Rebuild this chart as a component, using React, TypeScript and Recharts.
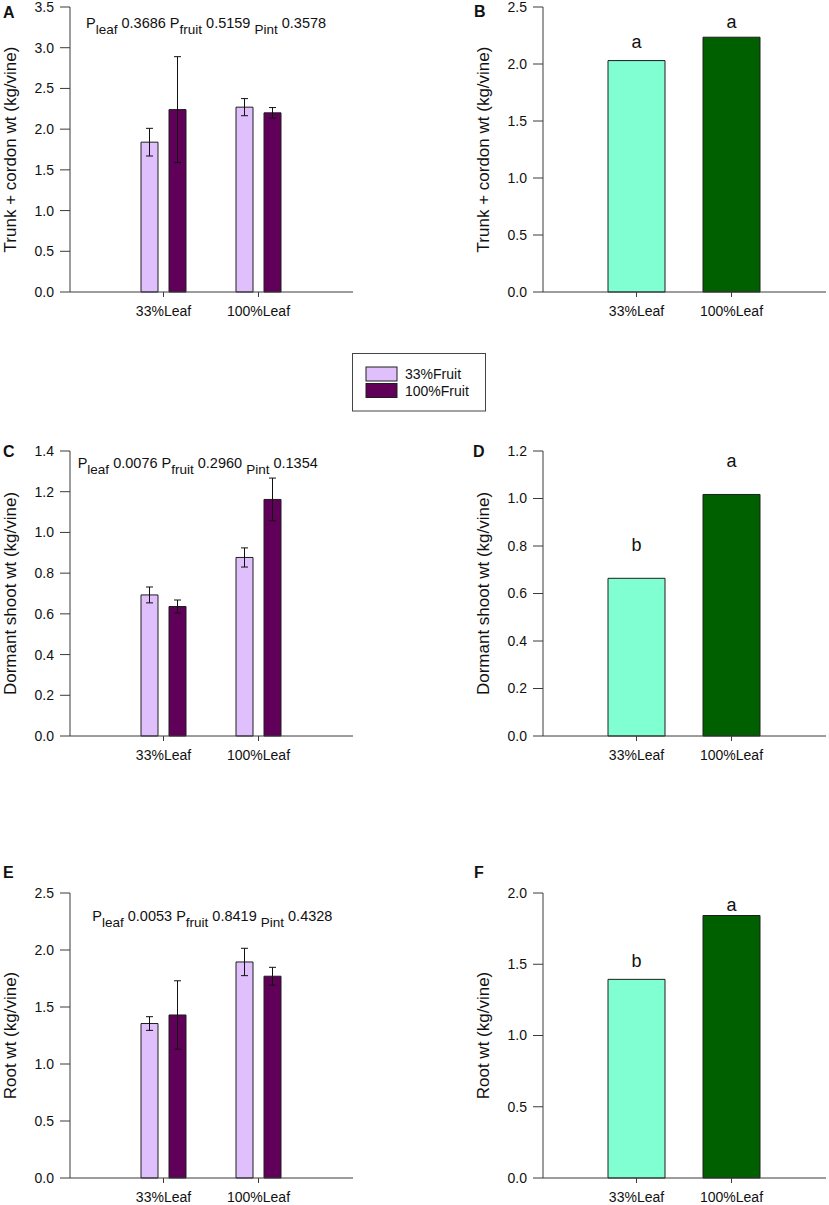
import React from 'react';
import { BarChart, Bar, XAxis, YAxis, ErrorBar, LabelList, Cell } from 'recharts';

const FONT = 'Arial, "Liberation Sans", sans-serif';
const AXIS = '#3a3a3a';
const INK = '#111';

// categories
const leafLevels = ['33%Leaf', '100%Leaf'];
const fruitLevels = ['33%Fruit', '100%Fruit'];

// trunk + cordon (A, B)
const trunkMean33Fruit = [1.84, 2.27];
const trunkMean100Fruit = [2.24, 2.2];
const trunkSe33Fruit = [0.17, 0.105];
const trunkSe100Fruit = [0.65, 0.065];
const trunkLeafMean = [2.03, 2.235];
const trunkLetters = ['a', 'a'];
const trunkP = ['0.3686', '0.5159', '0.3578'];
const trunkTicksA = [0, 0.5, 1, 1.5, 2, 2.5, 3, 3.5];
const trunkTicksB = [0, 0.5, 1, 1.5, 2, 2.5];

// dormant shoot (C, D)
const shootMean33Fruit = [0.693, 0.877];
const shootMean100Fruit = [0.636, 1.162];
const shootSe33Fruit = [0.039, 0.047];
const shootSe100Fruit = [0.032, 0.105];
const shootLeafMean = [0.664, 1.017];
const shootLetters = ['b', 'a'];
const shootP = ['0.0076', '0.2960', '0.1354'];
const shootTicksC = [0, 0.2, 0.4, 0.6, 0.8, 1, 1.2, 1.4];
const shootTicksD = [0, 0.2, 0.4, 0.6, 0.8, 1, 1.2];

// root (E, F)
const rootMean33Fruit = [1.355, 1.895];
const rootMean100Fruit = [1.43, 1.77];
const rootSe33Fruit = [0.06, 0.12];
const rootSe100Fruit = [0.3, 0.078];
const rootLeafMean = [1.394, 1.842];
const rootLetters = ['b', 'a'];
const rootP = ['0.0053', '0.8419', '0.4328'];
const rootTicksE = [0, 0.5, 1, 1.5, 2, 2.5];
const rootTicksF = [0, 0.5, 1, 1.5, 2];

const fruitColors = ['#e0c0fc', '#600058'];
const leafColors = ['#80ffd2', '#006000'];

const PLOT_H = 285;
const CHART_H = 7 + PLOT_H + 30;

function AxisTitle(props: any) {
  const { text, tx, ty } = props;
  return (
    <text x={tx} y={ty} transform={`rotate(-90 ${tx} ${ty})`} textAnchor="middle"
      dominantBaseline="central" fontSize={17} fontFamily={FONT} fill={INK}>
      {text}
    </text>
  );
}

const fmt = (v: number) => v.toFixed(1);

// bottom/left axes with ticks, top/right axes drawn only as the box frame
function axes(ticks: number[], title: string) {
  return [
    <XAxis key="xb" dataKey="leaf" padding={{ left: 46, right: 47 }} tickSize={5} tickMargin={9}
      axisLine={{ stroke: AXIS }} tickLine={{ stroke: AXIS }}
      tick={{ fill: INK, fontSize: 14, fontFamily: FONT }} height={30} />,
    <XAxis key="xt" xAxisId="top" orientation="top" dataKey="leaf" height={0} tick={false}
      tickLine={false} axisLine={{ stroke: AXIS }} />,
    <YAxis key="yl" domain={[0, ticks[ticks.length - 1]]} ticks={ticks} interval={0} tickFormatter={fmt}
      width={70} tickSize={10} tickMargin={6} axisLine={{ stroke: AXIS }} tickLine={{ stroke: AXIS }}
      tick={{ fill: INK, fontSize: 14, fontFamily: FONT }}
      label={<AxisTitle text={title} tx={10.5} ty={7 + PLOT_H / 2} />} />,
    <YAxis key="yr" yAxisId="right" orientation="right" width={0} domain={[0, 1]} tick={false}
      tickLine={false} axisLine={{ stroke: AXIS }} />,
  ];
}

function FactorialPanel(props: {
  top: number; title: string; m33: number[]; m100: number[]; e33: number[]; e100: number[]; ticks: number[];
}) {
  const { top, title, m33, m100, e33, e100, ticks } = props;
  const data = leafLevels.map((leaf, i) => ({ leaf, f33: m33[i], f100: m100[i], s33: e33[i], s100: e100[i] }));
  return (
    <div style={{ position: 'absolute', left: 0, top: top - 7, width: 360, height: CHART_H }}>
      <BarChart width={360} height={CHART_H} data={data} margin={{ top: 7, right: 7, left: 0, bottom: 0 }}
        barSize={17} barGap={11}>
        {axes(ticks, title)}
        <Bar dataKey="f33" name={fruitLevels[0]} fill={fruitColors[0]} stroke="#1e1e1e" strokeWidth={1}
          isAnimationActive={false}>
          <ErrorBar dataKey="s33" width={3.5} stroke={INK} strokeWidth={1} />
        </Bar>
        <Bar dataKey="f100" name={fruitLevels[1]} fill={fruitColors[1]} stroke="#1e1e1e" strokeWidth={1}
          isAnimationActive={false}>
          <ErrorBar dataKey="s100" width={3.5} stroke={INK} strokeWidth={1} />
        </Bar>
      </BarChart>
    </div>
  );
}

function LeafPanel(props: { top: number; title: string; means: number[]; letters: string[]; ticks: number[]; gaps: number[] }) {
  const { top, title, means, letters, ticks, gaps } = props;
  const data = leafLevels.map((leaf, i) => ({ leaf, mean: means[i], letter: letters[i] }));
  return (
    <div style={{ position: 'absolute', left: 473, top: top - 7, width: 356, height: CHART_H }}>
      <BarChart width={356} height={CHART_H} data={data} margin={{ top: 7, right: 3, left: 0, bottom: 0 }}
        barSize={57}>
        {axes(ticks, title)}
        <Bar dataKey="mean" stroke="#1e1e1e" strokeWidth={1} isAnimationActive={false}>
          {data.map((d, i) => <Cell key={d.leaf} fill={leafColors[i]} />)}
          <LabelList dataKey="letter" content={(p: any) => (
            <text x={Number(p.x) + Number(p.width) / 2} y={Number(p.y) - gaps[p.index]} textAnchor="middle"
              fontSize={18} fontFamily={FONT} fill={INK}>{p.value}</text>
          )} />
        </Bar>
      </BarChart>
    </div>
  );
}

function PText({ x, y, vals }: { x: number; y: number; vals: string[] }) {
  return (
    <text x={x} y={y} fontFamily={FONT} fontSize={14.5} fill={INK}>
      P<tspan fontSize={13.5} dy={6}>leaf</tspan>
      <tspan dy={-6}>{` ${vals[0]} P`}</tspan>
      <tspan fontSize={13.5} dy={6}>fruit</tspan>
      <tspan dy={-6}>{` ${vals[1]} `}</tspan>
      <tspan fontSize={13.5} dy={6}>Pint</tspan>
      <tspan dy={-6}>{` ${vals[2]}`}</tspan>
    </text>
  );
}

function Overlay() {
  const letter = (t: string, x: number, y: number) => (
    <text x={x} y={y} fontSize={16} fontWeight="bold" fontFamily={FONT} fill={INK}>{t}</text>
  );
  return (
    <svg width={829} height={1205} style={{ position: 'absolute', left: 0, top: 0, pointerEvents: 'none' }}>
      {letter('A', 3, 18)}
      {letter('B', 474, 16.5)}
      {letter('C', 3, 456.7)}
      {letter('D', 473, 456.7)}
      {letter('E', 3, 878)}
      {letter('F', 474, 878)}
      <PText x={86} y={28.3} vals={trunkP} />
      <PText x={77.7} y={467.7} vals={shootP} />
      <PText x={92.3} y={920.7} vals={rootP} />
      <rect x={352.5} y={353.5} width={133} height={57.5} fill="#fff" stroke="#444" strokeWidth={1} />
      {fruitLevels.map((f, i) => (
        <g key={f}>
          <rect x={366} y={367 + i * 16.5} width={31} height={14} fill={fruitColors[i]} stroke="#1e1e1e" strokeWidth={1} />
          <text x={405} y={379 + i * 17} fontSize={14} fontFamily={FONT} fill={INK}>{f}</text>
        </g>
      ))}
    </svg>
  );
}

export default function App() {
  return (
    <div style={{ position: 'absolute', left: 0, top: 0, width: 829, height: 1205, background: '#fff', overflow: 'hidden' }}>
      <FactorialPanel top={7} title="Trunk + cordon wt (kg/vine)" m33={trunkMean33Fruit} m100={trunkMean100Fruit}
        e33={trunkSe33Fruit} e100={trunkSe100Fruit} ticks={trunkTicksA} />
      <LeafPanel top={7} title="Trunk + cordon wt (kg/vine)" means={trunkLeafMean} letters={trunkLetters}
        ticks={trunkTicksB} gaps={[12.7, 9.4]} />
      <FactorialPanel top={450.5} title="Dormant shoot wt (kg/vine)" m33={shootMean33Fruit} m100={shootMean100Fruit}
        e33={shootSe33Fruit} e100={shootSe100Fruit} ticks={shootTicksC} />
      <LeafPanel top={450.5} title="Dormant shoot wt (kg/vine)" means={shootLeafMean} letters={shootLetters}
        ticks={shootTicksD} gaps={[27.7, 27.3]} />
      <FactorialPanel top={893} title="Root wt (kg/vine)" m33={rootMean33Fruit} m100={rootMean100Fruit}
        e33={rootSe33Fruit} e100={rootSe100Fruit} ticks={rootTicksE} />
      <LeafPanel top={893} title="Root wt (kg/vine)" means={rootLeafMean} letters={rootLetters}
        ticks={rootTicksF} gaps={[12, 5]} />
      <Overlay />
    </div>
  );
}
